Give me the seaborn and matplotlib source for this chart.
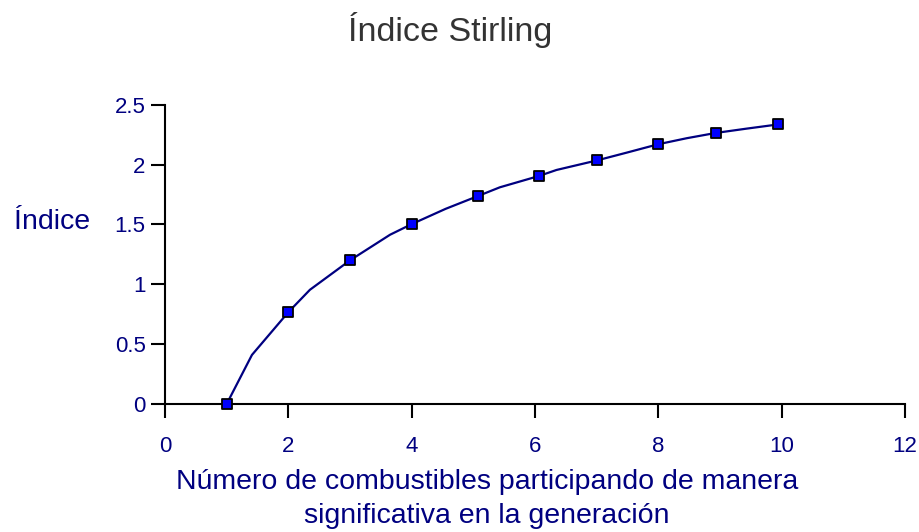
import numpy as np
import pandas as pd
import seaborn as sns
import matplotlib.pyplot as plt

# valores
n_combustibles = [1, 2, 3, 4, 5.07, 6.06, 7, 8, 8.93, 9.94]
indice = [0.0, 0.767, 1.20, 1.50, 1.736, 1.904, 2.034, 2.17, 2.264, 2.335]

curva_x = [1.0, 1.41, 2.0, 2.35, 3.0, 3.65, 3.99, 4.55, 5.07, 5.43, 6.06, 6.35,
           7.0, 7.49, 8.0, 8.46, 8.93, 9.43, 9.94]
curva_y = [0.0, 0.41, 0.767, 0.954, 1.20, 1.414, 1.50, 1.63, 1.736, 1.81, 1.904,
           1.955, 2.034, 2.10, 2.17, 2.22, 2.264, 2.30, 2.335]

x_ticks = [0, 2, 4, 6, 8, 10, 12]
y_ticks = [0, 0.5, 1, 1.5, 2, 2.5]
y_tick_labels = ['0', '0.5', '1', '1.5', '2', '2.5']

sns.set_style('ticks')
plt.rcParams['font.family'] = ['Liberation Sans', 'DejaVu Sans']

navy = '#000080'

fig = plt.figure(figsize=(9.19, 5.32), dpi=100)
ax = fig.add_axes([165 / 919, 1 - 404 / 532, 740 / 919, 299.3 / 532])

df_curva = pd.DataFrame({'x': curva_x, 'y': curva_y})
df_puntos = pd.DataFrame({'x': n_combustibles, 'y': indice})

sns.lineplot(data=df_curva, x='x', y='y', ax=ax, color=navy, linewidth=1.6,
             sort=False, estimator=None)
sns.scatterplot(data=df_puntos, x='x', y='y', ax=ax, marker='s', s=55,
                color='#0000ff', edgecolor='black', linewidth=1.3, zorder=5,
                clip_on=False)

ax.set_xlim(0, 12)
ax.set_ylim(0, 2.5)
ax.set_xticks(x_ticks)
ax.set_xticklabels([str(t) for t in x_ticks], fontsize=16, color=navy)
ax.set_yticks(y_ticks)
ax.set_yticklabels(y_tick_labels, fontsize=16, color=navy)
ax.tick_params(axis='x', length=10, width=1.5, color='black', pad=13)
ax.tick_params(axis='y', length=10, width=1.5, color='black', pad=4)

for s in ['top', 'right']:
    ax.spines[s].set_visible(False)
for s in ['left', 'bottom']:
    ax.spines[s].set_color('black')
    ax.spines[s].set_linewidth(1.5)

ax.set_xlabel('Número de combustibles participando de manera\nsignificativa en la generación',
              fontsize=20.5, color=navy, linespacing=1.4, va='top')
ax.xaxis.set_label_coords(0.435, -0.218)
ax.set_ylabel('Índice', fontsize=20.5, color=navy, rotation=0, va='center', ha='center')
ax.yaxis.set_label_coords(-0.153, 0.608)

fig.text(450 / 919, 1 - 30 / 532, 'Índice Stirling', fontsize=24.5, color='#333333',
         ha='center', va='center')

fig.savefig('out.png', dpi=100)
